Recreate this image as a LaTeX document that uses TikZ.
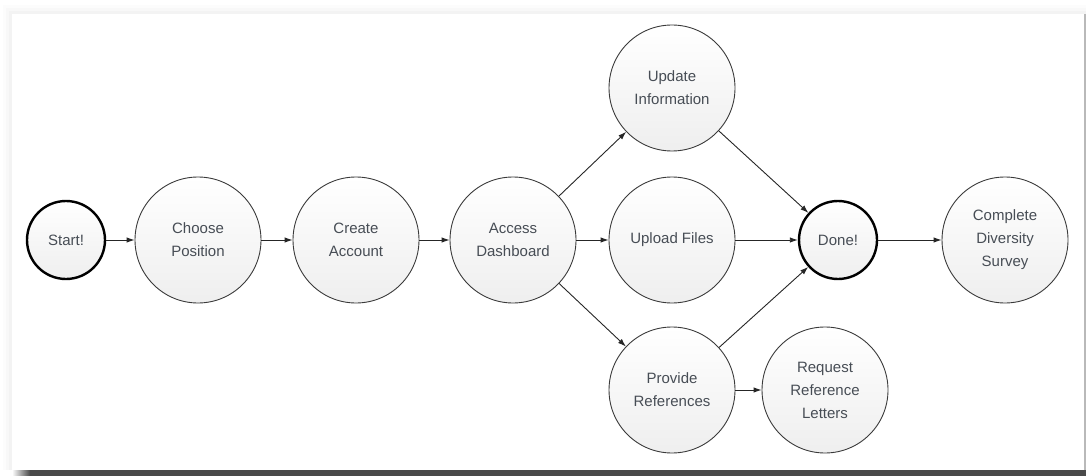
\documentclass[tikz,border=0pt]{standalone}
\usepackage{fontspec}
\setmainfont{Liberation Sans}
\usetikzlibrary{arrows.meta}
\definecolor{labelgray}{HTML}{474D55}
\definecolor{rimgray}{HTML}{3A3A3A}
\definecolor{shadowbar}{HTML}{4A4A4A}
\begin{document}
\begin{tikzpicture}[x=1pt, y=-1pt, >={Latex[length=8pt,width=5.5pt]},
  step node/.style={circle, draw=rimgray, line width=0.9pt, minimum size=126pt,
    inner sep=0pt, align=center, top color=white, bottom color=gray!13,
    text=labelgray, font=\fontsize{15}{23}\selectfont},
  end node/.style={step node, draw=black, line width=2.4pt, minimum size=78pt},
  flow/.style={->, draw=black!85, line width=0.9pt}]
  \useasboundingbox (0,0) rectangle (1086,476);

  % card with its shadow
  \foreach \s/\o in {9/0.012, 6/0.015, 3/0.02}
    \fill[black, opacity=\o] (12-\s,14-\s) rectangle (1086,470);
  \fill[white] (12,14) rectangle (1084,470);
  \fill[gray!55] (1084,14) rectangle (1086,470);
  \fill[shadowbar] (30,470) rectangle (1086,476);
  \shade[left color=white, right color=shadowbar] (12,470) rectangle (30,476);

  % steps
  \node[end node] (start) at (66,240) {Start!};
  \node[step node] (choose) at (198,240) {Choose\\Position};
  \node[step node] (create) at (356,240) {Create\\Account};
  \node[step node] (dash) at (513,240) {Access\\Dashboard};
  \node[step node] (update) at (672,88) {Update\\Information};
  \node[step node] (upload) at (672,240) {Upload Files};
  \node[step node] (refs) at (672,390) {Provide\\References};
  \node[step node] (letters) at (825,390) {Request\\Reference\\Letters};
  \node[end node] (done) at (838,240) {Done!};
  \node[step node] (survey) at (1005,240) {Complete\\Diversity\\Survey};

  % connections
  \draw[flow] (start) -- (choose);
  \draw[flow] (choose) -- (create);
  \draw[flow] (create) -- (dash);
  \draw[flow] (dash) -- (update);
  \draw[flow] (dash) -- (upload);
  \draw[flow] (dash) -- (refs);
  \draw[flow] (update) -- (done);
  \draw[flow] (upload) -- (done);
  \draw[flow] (refs) -- (done);
  \draw[flow] (refs) -- (letters);
  \draw[flow] (done) -- (survey);
\end{tikzpicture}
\end{document}
